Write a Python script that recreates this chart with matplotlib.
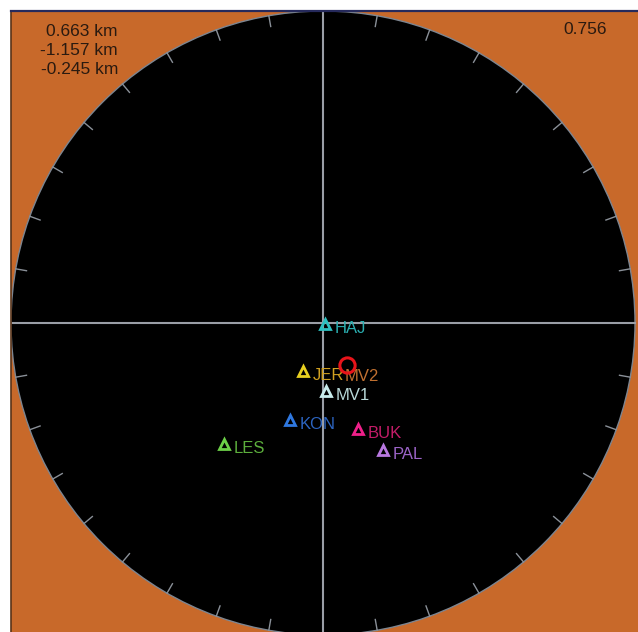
import numpy as np
import matplotlib.pyplot as plt
from matplotlib.patches import Circle

# station positions, normalised to the plot radius (east, north)
stations = ['HAJ', 'JER', 'MV1', 'KON', 'BUK', 'PAL', 'LES']
st_x = [0.005, -0.064, 0.010, -0.106, 0.112, 0.192, -0.317]
st_y = [-0.003, -0.154, -0.218, -0.311, -0.340, -0.407, -0.388]
mark_cols = ['#2cc0c0', '#e8d020', '#c8ecec', '#2f78e0', '#f0208a', '#b878e0', '#6cd048']
text_cols = ['#2aaeb0', '#d0a020', '#b8d8d8', '#2c64c0', '#c41c68', '#9c64c8', '#5cae3c']

# event location and the station hidden under it
ev_x = [0.077]
ev_y = [-0.135]
ev_label = 'MV2'

# header values
coords = ['0.663 km', '-1.157 km', '-0.245 km']
corr = '0.756'

orange = '#c8692a'
grid = '#9a9ea6'

fig = plt.figure(figsize=(6.38, 6.32), dpi=100)
fig.patch.set_facecolor('white')
ax = fig.add_axes([11 / 638, 0, 627 / 638, 621 / 632])
ax.set_facecolor(orange)
ax.set_xlim(-1, 315 / 312)
ax.set_ylim(-309 / 312, 1)
ax.set_xticks([])
ax.set_yticks([])
for side in ['right', 'bottom']:
    ax.spines[side].set_visible(False)
ax.spines['top'].set_color('#262a5c')
ax.spines['top'].set_linewidth(1.6)
ax.spines['left'].set_color('#5a3418')
ax.spines['left'].set_linewidth(1.2)

ax.add_patch(Circle((0, 0), 1, fc='black', ec='#7d8590', lw=1, zorder=1))

# crosshair
ax.plot([-1, 1], [0, 0], color=grid, lw=1.5, zorder=2)
ax.plot([0, 0], [-1, 1], color=grid, lw=1.5, zorder=2)

# rim ticks every 10 degrees
for a in range(0, 360, 10):
    if a % 90 == 0:
        continue
    t = np.radians(a)
    ax.plot([np.cos(t), 0.965 * np.cos(t)], [np.sin(t), 0.965 * np.sin(t)],
            color='#8a9098', lw=1, zorder=2)

for name, x, y, mc, tc in zip(stations, st_x, st_y, mark_cols, text_cols):
    ax.plot(x, y, marker='^', ms=6.5, mfc='none', mec=mc, mew=2, ls='none', zorder=4)
    ax.annotate(name, (x, y), xytext=(7, -3.5), textcoords='offset points',
                ha='left', va='center', color=tc, fontsize=12,
                family='Liberation Sans', zorder=5)

ax.annotate(ev_label, (ev_x[0], ev_y[0]), xytext=(-1.5, -8), textcoords='offset points',
            ha='left', va='center', color='#c07030', fontsize=12,
            family='Liberation Sans', zorder=5)
ax.plot(ev_x, ev_y, 'o', ms=11, mfc='none', mec='#e8141a', mew=2.2, zorder=6)

for i, s in enumerate(coords):
    fig.text(118 / 638, 1 - (31 + 19.5 * i) / 632, s, ha='right', va='center',
             fontsize=12.5, color='#2a1a10', family='Liberation Sans')
fig.text(607 / 638, 1 - 30 / 632, corr, ha='right', va='center',
         fontsize=12.5, color='#2a1a10', family='Liberation Sans')

fig.savefig('out.png', dpi=100)
